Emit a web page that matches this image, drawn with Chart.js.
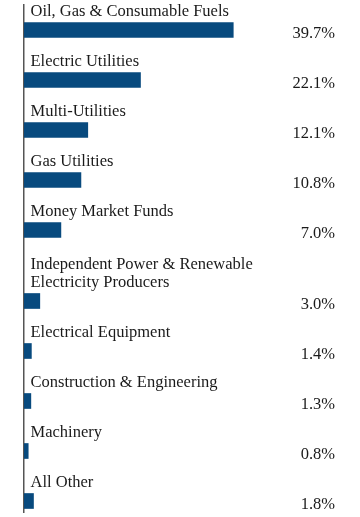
<!DOCTYPE html>
<html>
<head>
<meta charset="utf-8">
<script src="https://cdn.jsdelivr.net/npm/chart.js@4/dist/chart.umd.min.js"></script>
<style>
  html, body { margin: 0; padding: 0; background: #fff; }
</style>
</head>
<body>
<canvas id="sectorChart" width="360" height="517"></canvas>
<script>
// ── Data ─────────────────────────────────────────────────────────────────
var categories = [
    'Oil, Gas & Consumable Fuels',
    'Electric Utilities',
    'Multi-Utilities',
    'Gas Utilities',
    'Money Market Funds',
    ['Independent Power & Renewable', 'Electricity Producers'],
    'Electrical Equipment',
    'Construction & Engineering',
    'Machinery',
    'All Other'
];
var weights = [39.7, 22.1, 12.1, 10.8, 7.0, 3.0, 1.4, 1.3, 0.8, 1.8];
var valueLabels = ['39.7%', '22.1%', '12.1%', '10.8%', '7.0%', '3.0%', '1.4%', '1.3%', '0.8%', '1.8%'];

(function() {
    'use strict';

    var FONT = "'Liberation Serif', 'Times New Roman', serif";
    var BAR_COLOR = '#084a7e';
    var LINE_GAP = 0.42; // extra slot height per wrapped label line

    // Each row takes one slot, plus a bit more for every extra label line
    var rows = [];
    var pos = 0;
    categories.forEach(function(c, i) {
        var lines = Array.isArray(c) ? c : [c];
        if (i > 0) pos += 1 + LINE_GAP * (lines.length - 1);
        rows.push({ x: weights[i], y: pos });
    });

    // ── Labels plugin ─────────────────────────────────────────────────────
    var rowLabels = {
        id: 'rowLabels',
        afterDatasetsDraw: function(chart) {
            var ctx = chart.ctx;
            var area = chart.chartArea;
            var meta = chart.getDatasetMeta(0);
            ctx.save();
            ctx.font = '16.5px ' + FONT;
            ctx.fillStyle = '#1a1a1a';
            ctx.textBaseline = 'alphabetic';
            meta.data.forEach(function(bar, i) {
                var half = bar.height / 2;
                var lines = Array.isArray(categories[i]) ? categories[i] : [categories[i]];
                ctx.textAlign = 'left';
                for (var k = 0; k < lines.length; k++) {
                    var off = (lines.length - 1 - k) * 18.5;
                    ctx.fillText(lines[k], bar.base + 6.5, bar.y - half - 6.5 - off);
                }
                ctx.textAlign = 'right';
                ctx.fillText(valueLabels[i], area.right, bar.y + half);
            });
            ctx.restore();
        }
    };

    // ── Chart ─────────────────────────────────────────────────────────────
    new Chart(document.getElementById('sectorChart'), {
        type: 'bar',
        data: {
            datasets: [{
                data: rows,
                backgroundColor: BAR_COLOR,
                borderWidth: 0,
                barThickness: 15
            }]
        },
        options: {
            responsive: false,
            animation: false,
            indexAxis: 'y',
            layout: { padding: { top: 5, bottom: 5, left: 24, right: 25 } },
            plugins: { legend: { display: false }, tooltip: { enabled: false } },
            scales: {
                x: {
                    type: 'linear',
                    min: 0,
                    max: 59,
                    display: false
                },
                y: {
                    type: 'linear',
                    reverse: true,
                    offset: false,
                    min: -0.5,
                    max: pos + 0.22,
                    grid: { display: false },
                    ticks: { display: false },
                    border: { display: true, color: '#555', width: 1.5 },
                    afterFit: function(scale) { scale.width = 0; }
                }
            }
        },
        plugins: [rowLabels]
    });
})();
</script>
</body>
</html>
